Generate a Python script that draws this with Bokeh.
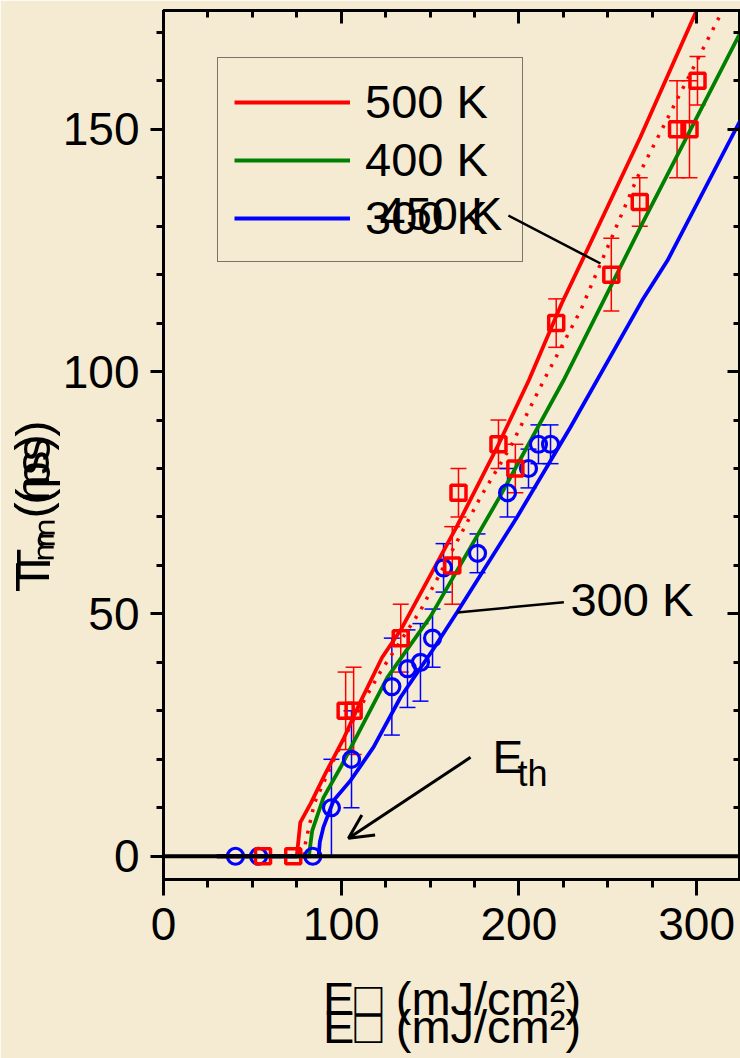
from bokeh.plotting import figure
from bokeh.models import (Range1d, LinearAxis, FixedTicker, Span, Whisker, TeeHead,
                          ColumnDataSource, Legend, LegendItem, Label, Arrow, OpenHead)
from bokeh.embed import file_html
from bokeh.resources import INLINE

BG = "#F5EBD2"
FONT = "Liberation Sans"

# ---------------- data ----------------
# measured points (450 K, red squares)
red_x = [56, 73, 102.5, 107, 133.5, 162.5, 166, 188.5, 198, 221, 252, 268, 289, 296, 300.5]
red_y = [0, 0, 30, 30, 45, 60, 75, 85, 80, 110, 120, 135, 150, 150, 160]
red_err = [0, 0, 8, 9, 7, 8, 5, 5, 5, 5, 7.5, 5, 10, 10, 5]

# measured points (300 K, blue circles)
blue_x = [40.5, 53.5, 84, 94.5, 105.8, 128.5, 137.3, 144.6, 151.4, 157.6, 176.7, 193.6, 205.4, 211, 217.8]
blue_y = [0, 0, 0, 10, 20, 35, 38.7, 40, 45, 59.5, 62.5, 75, 80, 85, 85]
blue_err = [0, 0, 0, 10, 10, 10, 8, 8, 6, 5, 4, 5, 4, 4, 4]

# simulated curves
c500_x = [30, 75, 77, 83, 91, 101, 111, 123, 134, 165, 188.7, 205.6, 224, 236.5, 268.4, 300]
c500_y = [0, 0, 7, 11, 17, 24, 32, 41, 47, 68, 85.1, 98.2, 114, 123.6, 148.4, 174.5]

c450_x = [30, 79, 80, 85, 96, 108, 122, 144.6, 161.5, 178.4, 195.3, 214, 234.7, 266.6, 314.6]
c450_y = [0, 0, 3, 11, 20, 29, 38, 50.7, 62.4, 74.1, 84.5, 98.2, 112.6, 140, 174.5]

c400_x = [30, 81.8, 83.7, 90, 99.6, 110.9, 126, 150.3, 189.6, 225, 268.4, 324.7]
c400_y = [0, 0, 5.3, 12.1, 18.3, 26.3, 36.9, 49.5, 74.4, 98.1, 129.8, 170]

c300_x = [30, 87.3, 88, 90, 95.7, 105.2, 118.2, 133.4, 151.4, 165.3, 199, 229, 269.4, 283.6, 324.7]
c300_y = [0, 0, 3, 6, 11.5, 15.6, 22.5, 32.8, 42.5, 50.4, 70, 88.5, 114.7, 122.9, 151.9]

x_major = [0, 100, 200, 300]
x_minor = [25, 50, 75, 125, 150, 175, 225, 250, 275]
y_major = [0, 50, 100, 150]
y_minor = [10, 20, 30, 40, 60, 70, 80, 90, 110, 120, 130, 140, 160, 170]

legend_labels = ["500 K", "400 K", "300 K"]
x_title = "E\u25a1 (mJ/cm\u00b2)"
y_title_a = "T\u2098 (ns)"
y_title_b = "T\u2098 (ps)"

# ---------------- figure ----------------
X0, X1, Y0, Y1 = 0, 324.7, -4.8, 174.5
FRAME_W, FRAME_H = 577, 869
PX_X = FRAME_W / (X1 - X0)
PX_Y = FRAME_H / (Y1 - Y0)
SHIFT = 0.387  # label baseline correction, fraction of font size

p = figure(width=740, height=1058, output_backend="svg", toolbar_location=None,
           x_range=Range1d(X0, X1), y_range=Range1d(Y0, Y1),
           min_border_left=163, min_border_right=0, min_border_top=10, min_border_bottom=179,
           background_fill_color=BG, border_fill_color=BG)
p.grid.visible = False
p.outline_line_color = "black"
p.outline_line_width = 3

xt = FixedTicker(ticks=x_major, minor_ticks=x_minor)
yt = FixedTicker(ticks=y_major, minor_ticks=y_minor)

def style_axis(ax, tick_in, tick_out, minor_in, minor_out, labels=True, standoff=12):
    ax.axis_line_width = 3
    ax.axis_line_color = "black"
    ax.major_tick_line_width = 3
    ax.minor_tick_line_width = 3
    ax.major_tick_in = tick_in
    ax.major_tick_out = tick_out
    ax.minor_tick_in = minor_in
    ax.minor_tick_out = minor_out
    ax.major_label_text_font = FONT
    ax.major_label_text_color = "black"
    if labels:
        ax.major_label_text_font_size = "46px"
        ax.major_label_standoff = standoff
    else:
        ax.major_label_text_font_size = "0px"
        ax.major_label_text_alpha = 0
        ax.major_label_standoff = 0

NB = "\u00a0"
xa = p.xaxis[0]
xa.ticker = xt
style_axis(xa, 0, 16, 0, 8)
xa.axis_label = x_title + "\n" + x_title
xa.axis_label_text_font = FONT
xa.axis_label_text_font_size = "47px"
xa.axis_label_text_font_style = "normal"
xa.axis_label_text_color = "black"
xa.axis_label_text_line_height = 0.53
xa.axis_label_standoff = 29

ya = p.yaxis[0]
ya.ticker = yt
style_axis(ya, 0, 13, 0, 7, standoff=11)
ya.axis_label = y_title_a + NB * 10 + "\n" + NB + y_title_b + NB * 9
ya.axis_label_text_font = FONT
ya.axis_label_text_font_size = "49px"
ya.axis_label_text_font_style = "normal"
ya.axis_label_text_color = "black"
ya.axis_label_text_line_height = 0.02
ya.axis_label_standoff = 0

top = LinearAxis(ticker=xt)
style_axis(top, 13, 0, 7, 0, labels=False)
p.add_layout(top, "above")
right = LinearAxis(ticker=yt)
style_axis(right, 13, 0, 7, 0, labels=False)
p.add_layout(right, "right")

# curves
r500 = p.line(c500_x, c500_y, line_color="#FF0000", line_width=3.8)
r450 = p.line(c450_x, c450_y, line_color="#FF0000", line_width=3.5, line_dash="3 8")
r400 = p.line(c400_x, c400_y, line_color="#008000", line_width=3.8)
r300 = p.line(c300_x, c300_y, line_color="#0000FF", line_width=3.8)

# error bars
def whisk(xs, ys, es, color):
    xx = [x for x, e in zip(xs, es) if e > 0]
    up = [y + e for y, e in zip(ys, es) if e > 0]
    lo = [y - e for y, e in zip(ys, es) if e > 0]
    src = ColumnDataSource(dict(x=xx, upper=up, lower=lo))
    w = Whisker(source=src, base="x", upper="upper", lower="lower",
                line_color=color, line_width=1.5,
                upper_head=TeeHead(size=16, line_color=color, line_width=1.5),
                lower_head=TeeHead(size=16, line_color=color, line_width=1.5))
    p.add_layout(w)

whisk(red_x, red_y, red_err, "#FF0000")
whisk(blue_x, blue_y, blue_err, "#0000FF")

p.scatter(blue_x, blue_y, marker="circle", size=16, line_color="#0000FF", line_width=3.2,
          fill_color=None)
p.scatter(red_x, red_y, marker="square", size=15, line_color="#FF0000", line_width=3.5,
          fill_color=None)

# zero line
p.add_layout(Span(location=0, dimension="width", line_color="black", line_width=4))

# legend
legend = Legend(items=[LegendItem(label=legend_labels[0], renderers=[r500]),
                       LegendItem(label=legend_labels[1], renderers=[r400]),
                       LegendItem(label=legend_labels[2], renderers=[r300])],
                location=(54, 617), margin=0, padding=16, spacing=3,
                glyph_width=116, glyph_height=54, label_height=54, label_width=141,
                label_standoff=15, label_text_font=FONT, label_text_font_size="47px",
                label_text_color="black", border_line_color="black", border_line_width=1.5,
                background_fill_alpha=0)
p.add_layout(legend)

def lab(x, y, text, size):
    # x, y: data position of the text's start on its baseline
    y = y + SHIFT * size / PX_Y
    p.add_layout(Label(x=x, y=y, text=text, text_font=FONT,
                       text_font_size="%dpx" % size, text_color="black",
                       text_align="left", text_baseline="alphabetic"))

# overlapping "450 K" in the legend
lab(121.6, 128.9, "450 K", 47)
p.add_layout(Arrow(x_start=194.1, y_start=132.2, x_end=245.9, y_end=122.3, end=None,
                   line_color="black", line_width=2.5))

# 300 K pointer
lab(229, 49.3, "300 K", 47)
p.add_layout(Arrow(x_start=225.3, y_start=52.4, x_end=165.3, y_end=50.3, end=None,
                   line_color="black", line_width=2.5))

# E_th arrow
lab(185.1, 16.7, "E", 46)
lab(199.2, 14.2, "th", 36)
p.add_layout(Arrow(x_start=172.8, y_start=20.4, x_end=104.1, y_end=3.7,
                   end=OpenHead(size=24, line_color="black", line_width=3),
                   line_color="black", line_width=3))

open("out.html", "w").write(file_html(p, INLINE, title="chart"))
